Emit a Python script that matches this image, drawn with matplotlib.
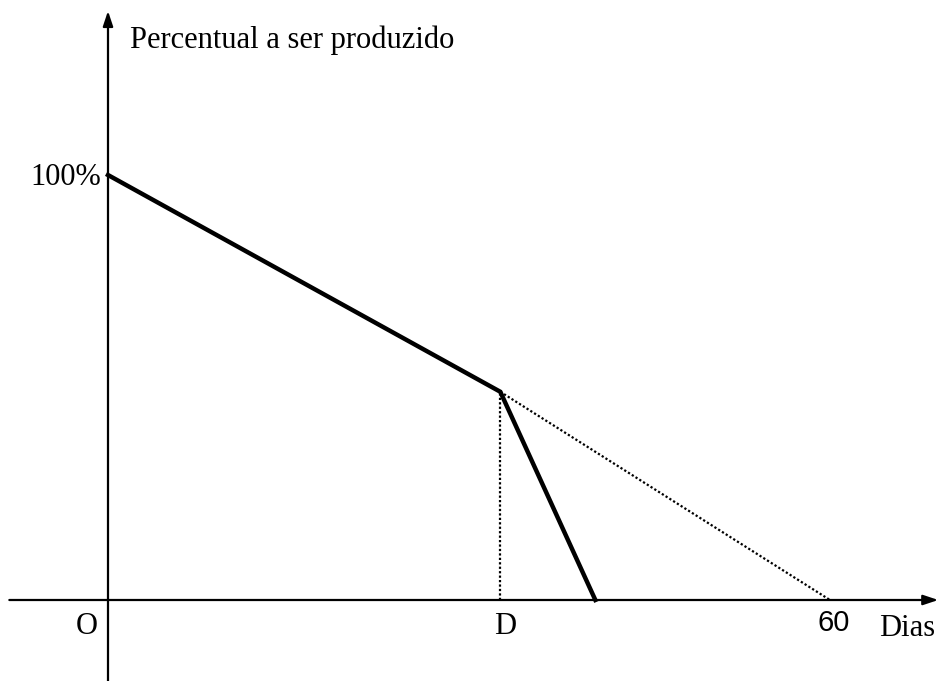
import numpy as np
import matplotlib.pyplot as plt

# dias e percentual
dias_real = [0, 32.6, 40.5]
perc_real = [100, 49, 0]
dias_plano = [32.6, 60]
perc_plano = [49, 0]
d_dia = 32.6
x_labels = ["O", "D"]
x_label_pos = [-1.8, 33.0]

serif = "Liberation Serif"

fig = plt.figure(figsize=(9.36, 6.81), dpi=100)
ax = fig.add_axes([0, 0, 1, 1])
ax.set_xlim(-8.975, 68.81)
ax.set_ylim(-19.06, 141.18)
ax.axis("off")

# eixos com setas
seta = dict(arrowstyle="-|>,head_length=0.9,head_width=0.3",
            color="black", lw=1.6, shrinkA=0, shrinkB=0)
ax.annotate("", xy=(69.0, 0), xytext=(-8.2, 0), arrowprops=seta,
            annotation_clip=False)
ax.annotate("", xy=(0, 138.6), xytext=(0, -19.5), arrowprops=seta,
            annotation_clip=False)

# linhas
ax.plot(dias_real, perc_real, color="black", lw=3.2, solid_joinstyle="miter")
ax.plot(dias_plano, perc_plano, color="black", lw=1.6, ls=(0, (1, 1)))
ax.plot([d_dia, d_dia], [0, perc_real[1]], color="black", lw=1.6, ls=(0, (1, 1)))

# textos
ax.text(1.8, 131.8, "Percentual a ser produzido", family=serif, fontsize=22,
        va="center", ha="left")
ax.text(-0.6, 99.5, "100%", family=serif, fontsize=22, va="center", ha="right")
for lab, xp in zip(x_labels, x_label_pos):
    ax.text(xp, -6.2, lab, family=serif, fontsize=22, va="center", ha="center")
ax.text(60.3, -5.3, "60", family="Liberation Sans", fontsize=21,
        va="center", ha="center")
ax.text(64.05, -6.8, "Dias", family=serif, fontsize=22, va="center", ha="left")

fig.savefig("out.png", dpi=100, facecolor="white")
